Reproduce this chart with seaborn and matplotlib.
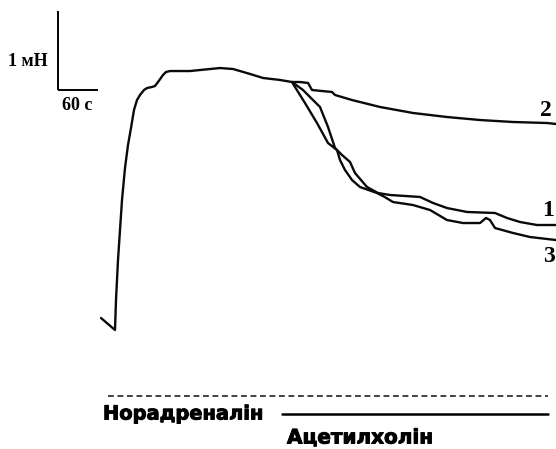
import numpy as np
import pandas as pd
import matplotlib
matplotlib.use("Agg")
import matplotlib.pyplot as plt
import matplotlib.patheffects as pe
import seaborn as sns
from matplotlib.lines import Line2D

# ---- data: time (s) and force (mN) ----
t_base = [0, 21, 22.5, 25.5, 28.5, 31.5, 36, 40.5, 45, 49.5, 54, 58.5, 64.5, 69, 76.5, 81,
          85.5, 93, 97.5, 103.5, 133.5, 148.5, 178.5, 198, 223.5, 243, 268.5, 286.5]
f_base = [0.152, 0, 0.380, 0.886, 1.266, 1.646, 2.051, 2.342, 2.557, 2.785, 2.911, 2.975,
          3.038, 3.063, 3.076, 3.089, 3.139, 3.228, 3.266, 3.278, 3.278, 3.291, 3.316, 3.304,
          3.241, 3.190, 3.165, 3.139]

t_2 = [286.5, 298.5, 310.5, 316.5, 331.5, 346.5, 351, 376.5, 418.5, 468, 519, 568.5, 618, 669, 682.5]
f_2 = [3.139, 3.139, 3.127, 3.038, 3.025, 3.013, 2.975, 2.911, 2.823, 2.747, 2.696, 2.658,
       2.633, 2.620, 2.608]

t_1 = [286.5, 291, 306, 324, 340.5, 354, 361.5, 373.5, 381, 399, 415.5, 433.5, 478.5, 498,
       519, 549, 591, 609, 628.5, 654, 682.5]
f_1 = [3.139, 3.076, 2.873, 2.620, 2.367, 2.278, 2.215, 2.127, 1.987, 1.810, 1.734, 1.709,
       1.684, 1.608, 1.544, 1.494, 1.481, 1.418, 1.367, 1.329, 1.329]

t_3 = [286.5, 303, 318, 328.5, 340.5, 351, 354, 358.5, 366, 376.5, 388.5, 414, 423, 438, 468,
       493.5, 519, 543, 568.5, 577.5, 583.5, 591, 618, 643.5, 682.5]
f_3 = [3.139, 3.038, 2.911, 2.823, 2.570, 2.304, 2.278, 2.152, 2.025, 1.899, 1.810, 1.734,
       1.696, 1.620, 1.582, 1.519, 1.392, 1.354, 1.354, 1.418, 1.392, 1.291, 1.228, 1.177,
       1.139]

curve_labels = ["2", "1", "3"]
scale_time = 60      # s
scale_force = 1      # mN
scale_time_label = "60 с"
scale_force_label = "1 мН"
drug_labels = ["Норадреналін", "Ацетилхолін"]

# ---- figure ----
W, H = 556, 449
sns.set_style("white")
fig = plt.figure(figsize=(W / 100, H / 100), dpi=100)
ax = fig.add_axes([0, 0, 1, 1])

frames = []
for name, t, f in [("base", t_base, f_base), ("2", t_2, f_2), ("1", t_1, f_1), ("3", t_3, f_3)]:
    frames.append(pd.DataFrame({"t": t, "F": f, "series": name}))
df = pd.concat(frames, ignore_index=True)

sns.lineplot(data=df, x="t", y="F", units="series", estimator=None, color="#0a0a0a",
             linewidth=1.7, ax=ax, legend=False, sort=False)

# pixel -> data mapping of the canvas
x0_px, sx = 101, 1.5          # s per px
y0_px, sy = 330, 79.0         # px per mN
ax.set_xlim((0 - x0_px) * sx, (W - x0_px) * sx)
ax.set_ylim((y0_px - H) / sy, y0_px / sy)
ax.axis("off")

# scale bar
bx = (58 - x0_px) * sx
by = (y0_px - 90) / sy
ax.plot([bx, bx], [by, by + scale_force], color="black", lw=1.4, solid_capstyle="butt")
ax.plot([bx, bx + scale_time], [by, by], color="black", lw=1.4, solid_capstyle="butt")
serif = ["Liberation Serif", "DejaVu Serif"]
ax.text(bx - 10 * sx, by + 0.36, scale_force_label, ha="right", va="center",
        fontsize=13, fontweight="bold", family=serif, color="black")
ax.text(bx + scale_time / 2 - 1, by - 0.2, scale_time_label, ha="center", va="center",
        fontsize=13, fontweight="bold", family=serif, color="black")

# curve labels (positions in px)
for lab, (px, py) in zip(curve_labels, [(546, 110), (548, 211), (549, 257)]):
    ax.text((px - x0_px) * sx, (y0_px - py) / sy, lab, ha="center", va="center",
            fontsize=17, fontweight="bold", family=serif, color="black")

def fp(x, y):
    return x / W, 1 - y / H

# drug application marks
fig.add_artist(Line2D([fp(108, 0)[0], fp(548, 0)[0]], [fp(0, 396)[1]] * 2, color="#222222",
                      lw=1.2, dashes=(3.5, 2.2)))
fig.add_artist(Line2D([fp(282, 0)[0], fp(548, 0)[0]], [fp(0, 414)[1]] * 2, color="black",
                      lw=1.8))
heavy = [pe.withStroke(linewidth=0.7, foreground="black")]
fig.text(*fp(103, 414), drug_labels[0], ha="left", va="center", fontsize=14,
         fontweight="bold", family=["DejaVu Sans"], color="black", path_effects=heavy)
fig.text(*fp(287, 438), drug_labels[1], ha="left", va="center", fontsize=14.4,
         fontweight="bold", family=["DejaVu Sans"], color="black", path_effects=heavy)

fig.savefig("out.png", dpi=100, facecolor="white")
